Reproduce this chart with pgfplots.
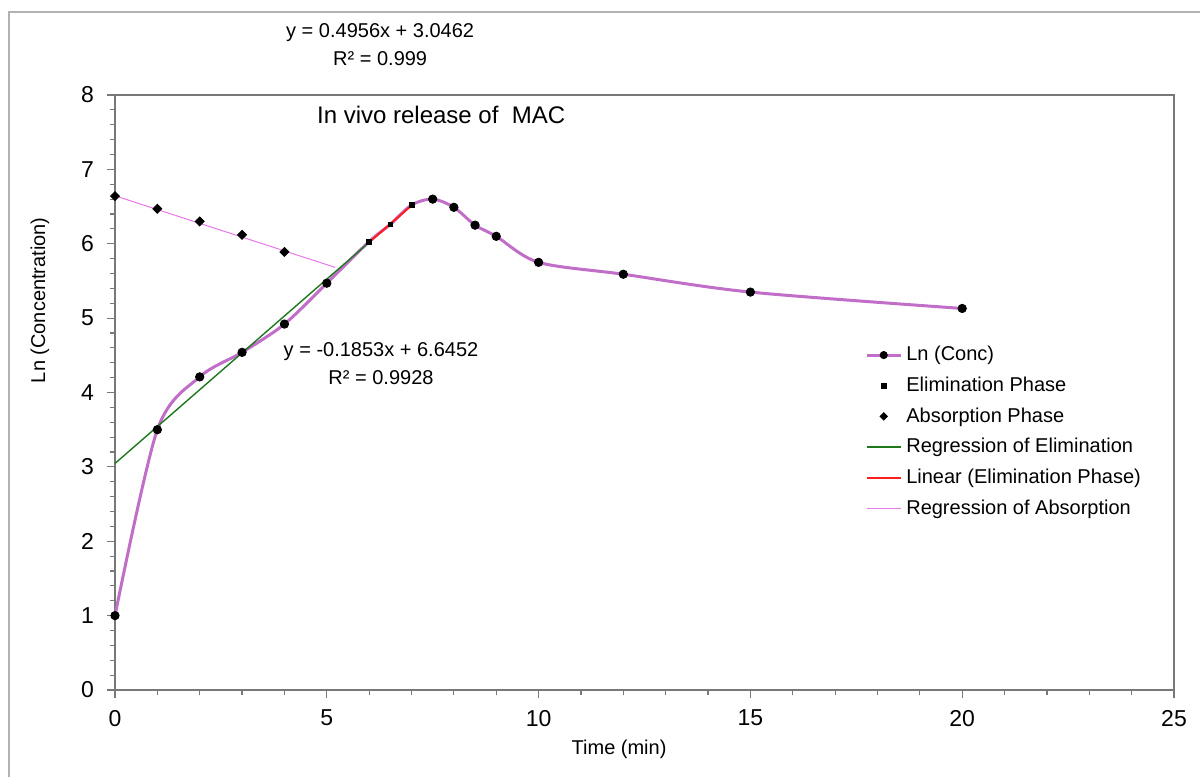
\documentclass[border=0pt]{standalone}
\usepackage{fontspec}
\setmainfont{Liberation Sans}
\usepackage{pgfplots}
\pgfplotsset{compat=1.18}

\definecolor{lnconc}{RGB}{192,110,200}
\definecolor{greentrend}{RGB}{30,120,30}
\definecolor{redtrend}{RGB}{255,30,30}
\definecolor{pinktrend}{RGB}{232,120,232}
\definecolor{axisgray}{RGB}{120,120,120}

\begin{document}
\begin{tikzpicture}
\useasboundingbox (-57.5pt,-43.5pt) rectangle (542.5pt,345pt);
% chart area border (only left and top visible)
\draw[gray!60, line width=0.6pt] (-53pt,-43.5pt) -- (-53pt,339pt) -- (542.5pt,339pt);
\begin{axis}[
    scale only axis,
    width=529.5pt, height=297.5pt,
    xmin=0, xmax=25, ymin=0, ymax=8,
    xtick={0,5,...,25}, ytick={0,1,...,8},
    minor x tick num=4, minor y tick num=4,
    tick pos=left,
    tick align=outside,
    major tick length=4pt, minor tick length=2.5pt,
    axis line style={draw=axisgray, line width=1pt},
    tick style={axisgray, line width=0.6pt},
    tick label style={font=\fontsize{11.5}{13}\selectfont},
    yticklabel style={xshift=-3pt},
    xticklabel style={yshift=-2.5pt},
    /pgf/number format/assume math mode=true,
    xlabel={Time (min)},
    ylabel={Ln (Concentration)},
    label style={font=\fontsize{10}{12}\selectfont},
    xlabel style={at={(axis description cs:0.476,-0.1)}, anchor=center},
    ylabel style={at={(axis description cs:-0.0708,0.655)}, anchor=center},
    clip=false,
    legend style={at={(axis description cs:0.708,0.585)}, anchor=north west,
      draw=none, fill=none, font=\fontsize{10}{12}\selectfont,
      row sep=2.6pt, inner sep=0pt},
    legend cell align=left,
  ]

  % Ln (Conc) curve
  \addplot[lnconc, line width=1.5pt, smooth, forget plot] coordinates {
    (0,1.00) (1,3.50) (2,4.21) (3,4.54) (4,4.92) (5,5.47) (6,6.03)
    (6.5,6.26) (7,6.52) (7.5,6.60) (8,6.49) (8.5,6.25) (9,6.10)
    (10,5.75) (12,5.59) (15,5.35) (20,5.13)};

  % trendlines
  \addplot[pinktrend, line width=0.5pt, forget plot] coordinates {(0,6.6452) (5.2,5.6816)};
  \addplot[greentrend, line width=0.7pt, forget plot] coordinates {(0,3.0462) (6,6.0198)};
  \addplot[redtrend, line width=1pt, forget plot] coordinates {(6,6.0198) (7,6.5154)};

  % markers
  \addplot[only marks, mark=*, mark size=2.1pt, black, forget plot] coordinates {
    (0,1.00) (1,3.50) (2,4.21) (3,4.54) (4,4.92) (5,5.47)
    (7.5,6.60) (8,6.49) (8.5,6.25) (9,6.10)
    (10,5.75) (12,5.59) (15,5.35) (20,5.13)};
  \addplot[only marks, mark=square*, mark size=1.2pt, black, forget plot] coordinates {
    (6,6.03) (6.5,6.26) (7,6.52)};
  \addplot[only marks, mark=square*, mark size=1.6pt, mark options={rotate=45}, black, forget plot] coordinates {
    (0,6.64) (1,6.47) (2,6.30) (3,6.12) (4,5.89)};

  % legend
  \addlegendimage{lnconc, line width=1.5pt, mark=*, mark size=1.8pt, mark options={black, fill=black, line width=0.4pt}}
  \addlegendentry{Ln (Conc)}
  \addlegendimage{only marks, mark=square*, mark size=1.2pt, black}
  \addlegendentry{Elimination Phase}
  \addlegendimage{only marks, mark=square*, mark size=1.3pt, mark options={rotate=45}, black}
  \addlegendentry{Absorption Phase}
  \addlegendimage{color=greentrend, line width=0.9pt}
  \addlegendentry{Regression of Elimination}
  \addlegendimage{color=redtrend, line width=0.9pt}
  \addlegendentry{Linear (Elimination Phase)}
  \addlegendimage{color=pinktrend, line width=0.9pt}
  \addlegendentry{Regression of Absorption}

  % labels
  \node[font=\fontsize{12}{14}\selectfont] at (axis cs:7.70,7.73) {In vivo release of\ \ MAC};
  \node[align=center, font=\fontsize{10}{14}\selectfont] at (axis cs:6.26,8.68)
    {y = 0.4956x + 3.0462\\R² = 0.999};
  \node[align=center, font=\fontsize{10}{14}\selectfont] at (axis cs:6.28,4.39)
    {y = -0.1853x + 6.6452\\R² = 0.9928};
\end{axis}
\end{tikzpicture}
\end{document}
